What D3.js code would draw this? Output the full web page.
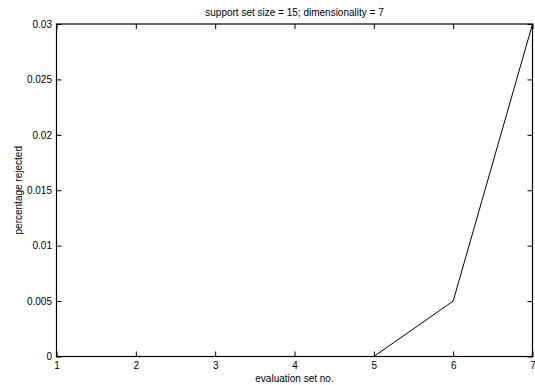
<!DOCTYPE html>
<html>
<head>
<meta charset="utf-8">
<script src="https://cdn.jsdelivr.net/npm/d3@7"></script>
<style>
  body { margin: 0; background: #fff; }
  svg text { font-family: "Liberation Sans", Arial, sans-serif; font-size: 10px; fill: #000; }
</style>
</head>
<body>
<div id="chart"></div>
<script>
var evalSets = [1, 2, 3, 4, 5, 6, 7];
var rejected = [0, 0, 0, 0, 0, 0.005, 0.03];
var xTicks = [1, 2, 3, 4, 5, 6, 7];
var yTicks = [0, 0.005, 0.01, 0.015, 0.02, 0.025, 0.03];

var width = 535, height = 385;
var margin = { top: 24, right: 2.5, bottom: 28.5, left: 56.5 };
var w = width - margin.left - margin.right;
var h = height - margin.top - margin.bottom;

var svg = d3.select('#chart')
    .append('svg')
    .attr('width', width)
    .attr('height', height);

var g = svg.append('g')
    .attr('transform', 'translate(' + margin.left + ',' + margin.top + ')');

var x = d3.scaleLinear().domain([1, 7]).range([0, w]);
var y = d3.scaleLinear().domain([0, 0.03]).range([h, 0]);

// inward ticks, matlab style
function styleAxis(sel) {
    sel.select('.domain').remove();
    sel.selectAll('.tick line').attr('stroke', '#000');
}

g.append('g')
    .attr('transform', 'translate(0,' + h + ')')
    .call(d3.axisBottom(x).tickValues(xTicks).tickSizeInner(-5).tickSizeOuter(0).tickPadding(5).tickFormat(d3.format('d')))
    .call(styleAxis)
    .selectAll('text').attr('font-size', 10);

g.append('g')
    .call(d3.axisTop(x).tickValues(xTicks).tickSizeInner(-5).tickSizeOuter(0).tickFormat(''))
    .call(styleAxis);

g.append('g')
    .call(d3.axisLeft(y).tickValues(yTicks).tickSizeInner(-5).tickSizeOuter(0).tickPadding(4.5).tickFormat(d3.format('')))
    .call(styleAxis)
    .selectAll('text').attr('font-size', 10);

g.append('g')
    .attr('transform', 'translate(' + w + ',0)')
    .call(d3.axisRight(y).tickValues(yTicks).tickSizeInner(-5).tickSizeOuter(0).tickFormat(''))
    .call(styleAxis);

// box
g.append('rect')
    .attr('width', w)
    .attr('height', h)
    .attr('fill', 'none')
    .attr('stroke', '#000')
    .attr('stroke-width', 1.2);

// data line
var line = d3.line()
    .x(function(d, i) { return x(evalSets[i]); })
    .y(function(d) { return y(d); });

g.append('path')
    .datum(rejected)
    .attr('fill', 'none')
    .attr('stroke', '#000')
    .attr('stroke-width', 1)
    .attr('d', line);

// title and labels
svg.append('text')
    .attr('x', margin.left + w / 2)
    .attr('y', 16)
    .attr('text-anchor', 'middle')
    .text('support set size = 15; dimensionality = 7');

svg.append('text')
    .attr('x', margin.left + w / 2)
    .attr('y', 382)
    .attr('text-anchor', 'middle')
    .text('evaluation set no.');

svg.append('text')
    .attr('transform', 'translate(22,' + (margin.top + h / 2) + ') rotate(-90)')
    .attr('text-anchor', 'middle')
    .text('percentage rejected');
</script>
</body>
</html>
